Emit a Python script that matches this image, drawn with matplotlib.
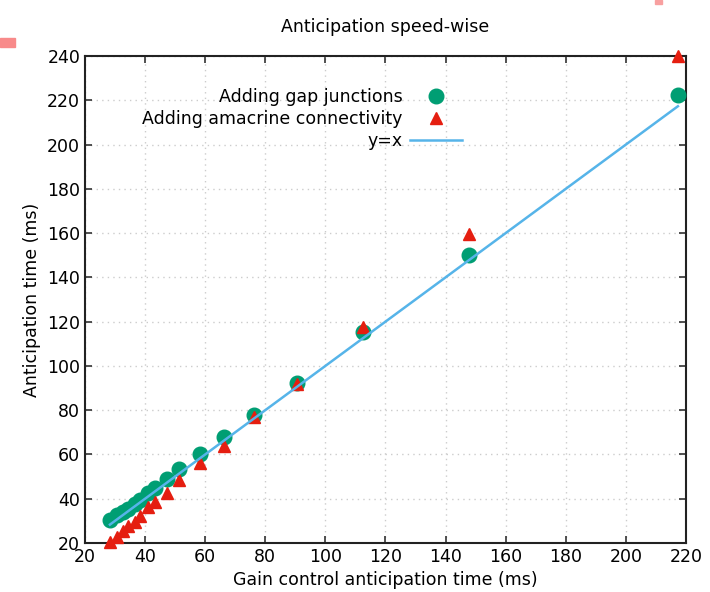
import matplotlib.pyplot as plt
import matplotlib.patches as mpatches
import numpy as np

# gain control anticipation time (ms), shared x for both series
gain_ms = [28.3, 30.6, 32.6, 34.3, 36.6, 38.3, 41.0, 43.3, 47.3, 51.3,
           58.3, 66.3, 76.2, 90.5, 112.5, 147.8, 217.3]
gap_ms = [30.5, 32.5, 34.0, 35.5, 37.5, 39.5, 42.5, 45.0, 49.0, 53.5,
          60.0, 68.0, 78.0, 92.3, 115.3, 150.2, 222.3]
amacrine_ms = [20.4, 22.7, 25.5, 27.5, 29.5, 32.0, 36.3, 38.6, 42.8, 48.6,
               56.0, 64.0, 76.7, 92.0, 117.6, 159.6, 240.0]

x_ticks = list(range(20, 221, 20))
y_ticks = list(range(20, 241, 20))

plt.rcParams["font.family"] = ["DejaVu Sans"]
plt.rcParams["font.size"] = 12.5

fig = plt.figure(figsize=(7.1, 5.92), dpi=100)
ax = fig.add_axes([0.1197, 0.0828, 0.8465, 0.8226])

# leftover marks at the edges of the original screenshot
fig.patches.append(mpatches.Rectangle((0.0, 0.921), 0.021, 0.015, transform=fig.transFigure,
                                      color="#f88a8a", zorder=0))
fig.patches.append(mpatches.Rectangle((0.922, 0.993), 0.01, 0.007, transform=fig.transFigure,
                                      color="#f8a0a0", zorder=0))

ax.plot(gain_ms, gap_ms, linestyle="none", marker="o", markersize=10.5,
        color="#009e73", label="Adding gap junctions", zorder=3, clip_on=False)
ax.plot(gain_ms, amacrine_ms, linestyle="none", marker="^", markersize=9,
        color="#e51e10", label="Adding amacrine connectivity", zorder=3, clip_on=False)
line_x = np.array([min(gain_ms), max(gain_ms)])
ax.plot(line_x, line_x, color="#56b4e9", linewidth=1.8, label="y=x", zorder=4)

ax.set_xlim(20, 220)
ax.set_ylim(20, 240)
ax.set_xticks(x_ticks)
ax.set_yticks(y_ticks)
ax.tick_params(direction="in", top=True, right=True, length=5, width=1.2,
               color="#333333", labelsize=12.5)
ax.grid(True, linestyle=(0, (1, 3)), color="#cccccc", linewidth=1.0)
for sp in ax.spines.values():
    sp.set_linewidth(1.5)
    sp.set_color("#222222")

ax.set_title("Anticipation speed-wise", fontsize=12.5, pad=17)
ax.set_xlabel("Gain control anticipation time (ms)", labelpad=4)
ax.set_ylabel("Anticipation time (ms)", labelpad=4)

ax.legend(loc="upper right", bbox_to_anchor=(0.628, 0.935), frameon=False,
          markerfirst=False, handlelength=3.0, handletextpad=0.45,
          labelspacing=0.24, borderpad=0, borderaxespad=0, numpoints=1)

fig.savefig("out.png", dpi=100)
